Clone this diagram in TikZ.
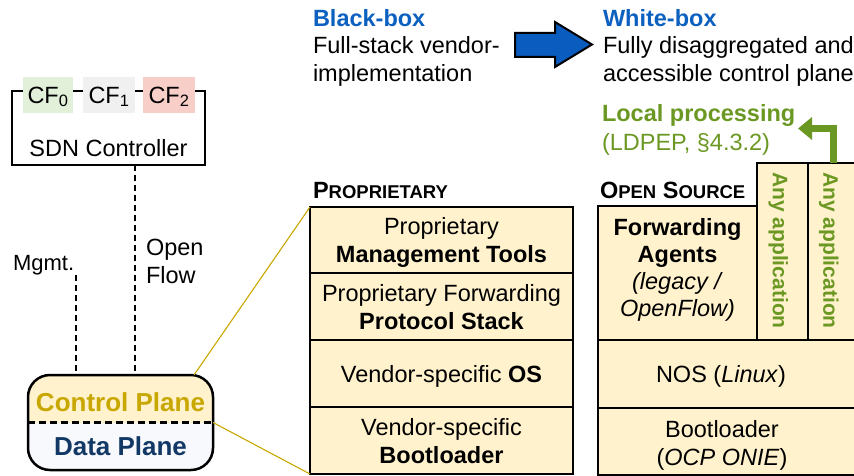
\documentclass[tikz,border=0pt]{standalone}
\usepackage{fontspec}
\setmainfont{Liberation Sans}
\usetikzlibrary{arrows.meta}

\definecolor{boxfill}{RGB}{255,242,204}
\definecolor{dpfill}{RGB}{247,249,252}
\definecolor{cfgreen}{RGB}{226,240,217}
\definecolor{cfgrey}{RGB}{240,240,240}
\definecolor{cfred}{RGB}{248,206,200}
\definecolor{planegold}{RGB}{200,167,0}
\definecolor{planenavy}{RGB}{18,56,102}
\definecolor{headblue}{RGB}{12,96,192}
\definecolor{arrowblue}{RGB}{10,92,190}
\definecolor{appgreen}{RGB}{107,152,35}

\newcommand{\fsmain}{\fontsize{23.5}{28}\selectfont}
\newcommand{\fsagents}{\fontsize{23.5}{27}\selectfont}
\newcommand{\fsmgmt}{\fontsize{22}{26}\selectfont}
\newcommand{\fssc}{\fontsize{18.5}{28}\selectfont}
\newcommand{\fsapp}{\fontsize{21}{24}\selectfont}
\newcommand{\fsplane}{\fontsize{26}{30}\selectfont}

\begin{document}
\begin{tikzpicture}[x=1pt,y=-1pt,
  every node/.style={inner sep=0pt,outer sep=0pt,font=\fsmain,align=center,text depth=0pt},
  stackbox/.style={draw=black,line width=2.2pt,fill=boxfill},
  cfbox/.style={fill=#1,minimum height=36pt},
  dashline/.style={line width=2.5pt,dash pattern=on 6pt off 4pt},
  zoomline/.style={draw=planegold,line width=1.1pt},
  lefttext/.style={anchor=west,align=left},
  apptext/.style={rotate=-90,font=\fsapp\bfseries,text=appgreen},
]
\useasboundingbox (0,0) rectangle (854,476);

% ---- headings and transition arrow
\node[lefttext,font=\fsmain\bfseries,text=headblue] (bbh) at (313,18) {Black-box};
\node[lefttext] (bbt) at (313,58.5) {Full-stack vendor-\\implementation};
\node[lefttext,font=\fsmain\bfseries,text=headblue] (wbh) at (603,18) {White-box};
\node[lefttext] (wbt) at (603,58.5) {Fully disaggregated and\\accessible control plane};
\filldraw[fill=arrowblue,draw=black,line width=2pt,line join=miter]
  (515,33) -- (555,33) -- (555,22) -- (592,44.5) -- (555,67) -- (555,57) -- (515,57) -- cycle;

% ---- SDN controller with its control functions
\node[draw=black,line width=2.5pt,minimum width=193pt,minimum height=74pt] (ctrl) at (108.5,128) {};
\node (ctrllabel) at (108.5,148) {SDN Controller};
\node[cfbox=cfgreen,minimum width=50pt] (cfa) at (48,95) {CF\textsubscript{0}};
\node[cfbox=cfgrey,minimum width=52pt] (cfb) at (109,95) {CF\textsubscript{1}};
\node[cfbox=cfred,minimum width=52pt] (cfc) at (169,95) {CF\textsubscript{2}};

% ---- switch: control plane over data plane
\node[draw=black,line width=2.5pt,rounded corners=22pt,minimum width=185pt,minimum height=95pt,
  path picture={
    \fill[boxfill,sharp corners] (path picture bounding box.north west) rectangle (path picture bounding box.east);
    \fill[dpfill,sharp corners] (path picture bounding box.west) rectangle (path picture bounding box.south east);
  }] (dev) at (120.5,422.5) {};
\draw[line width=2.5pt,dash pattern=on 7pt off 4pt] (dev.west) -- (dev.east);
\node[font=\fsplane\bfseries,text=planegold] (cplane) at (120.5,402) {Control Plane};
\node[font=\fsplane\bfseries,text=planenavy] (dplane) at (120.5,446) {Data Plane};

% ---- management and OpenFlow channels
\coordinate (ofx) at (135,0);
\coordinate (mg) at (76,275);
\draw[dashline] (ctrl.south -| ofx) -- (dev.north -| ofx);
\draw[dashline] (mg) -- (dev.north -| mg);
\node[lefttext,font=\fsmgmt] (mgmt) at (13,263) {Mgmt.};
\node[lefttext] (oflabel) at (146,261.5) {Open\\Flow};

% ---- proprietary stack
\node[lefttext,font=\fsmain\bfseries] (ptitle) at (313,190) {P{\fssc ROPRIETARY}};
\node[stackbox,minimum width=263pt,minimum height=66pt] (pmt) at (441.5,240) {Proprietary\\\textbf{Management Tools}};
\node[stackbox,minimum width=263pt,minimum height=67pt] (pfs) at (441.5,306.5) {Proprietary Forwarding\\\textbf{Protocol Stack}};
\node[stackbox,minimum width=263pt,minimum height=67pt] (pos) at (441.5,373.5) {Vendor-specific \textbf{OS}};
\node[stackbox,minimum width=263pt,minimum height=67pt] (pbl) at (441.5,440.5) {Vendor-specific\\\textbf{Bootloader}};

% ---- zoom lines from the switch to the stack
\draw[zoomline] ([xshift=-19pt]dev.north east) -- (pmt.north west);
\draw[zoomline] (dev.east) -- (pbl.south west);

% ---- open source stack
\node[lefttext,font=\fsmain\bfseries] (otitle) at (600,190) {O{\fssc PEN} S{\fssc OURCE}};
\node[stackbox,minimum width=159pt,minimum height=134pt] (fwd) at (677.5,273) {};
\node[font=\fsagents] (fwdtext) at ([yshift=5.5pt]fwd.center)
  {\textbf{Forwarding}\\\textbf{Agents}\\\textit{(legacy /}\\\textit{OpenFlow)}};
\node[stackbox,minimum width=51pt,minimum height=177pt] (app1) at (782.5,251.5) {};
\node[stackbox,minimum width=50pt,minimum height=177pt] (app2) at (833,251.5) {};
\node[apptext] (app1text) at (780.5,250.5) {Any application};
\node[apptext] (app2text) at (831,250.5) {Any application};
\node[stackbox,minimum width=260pt,minimum height=68pt] (nos) at (728,374) {};
\node (nostext) at ([xshift=-7pt]nos.center) {NOS (\textit{Linux})};
\node[stackbox,minimum width=260pt,minimum height=67pt] (obl) at (728,441.5) {};
\node (obltext) at ([xshift=-6pt,yshift=-1pt]obl.center) {Bootloader\\(\textit{OCP ONIE})};

% ---- local processing path
\node[lefttext,font=\fsmain\bfseries,text=appgreen] (lph) at (602,113) {Local processing};
\node[lefttext,text=appgreen] (lpt) at (602,142) {(LDPEP, §4.3.2)};
\coordinate (lp) at (798,128.5);
\draw[draw=appgreen,line width=7pt,line join=miter,-{Triangle[length=14pt,width=22pt]}] (app2.north) |- (lp);

\end{tikzpicture}
\end{document}
